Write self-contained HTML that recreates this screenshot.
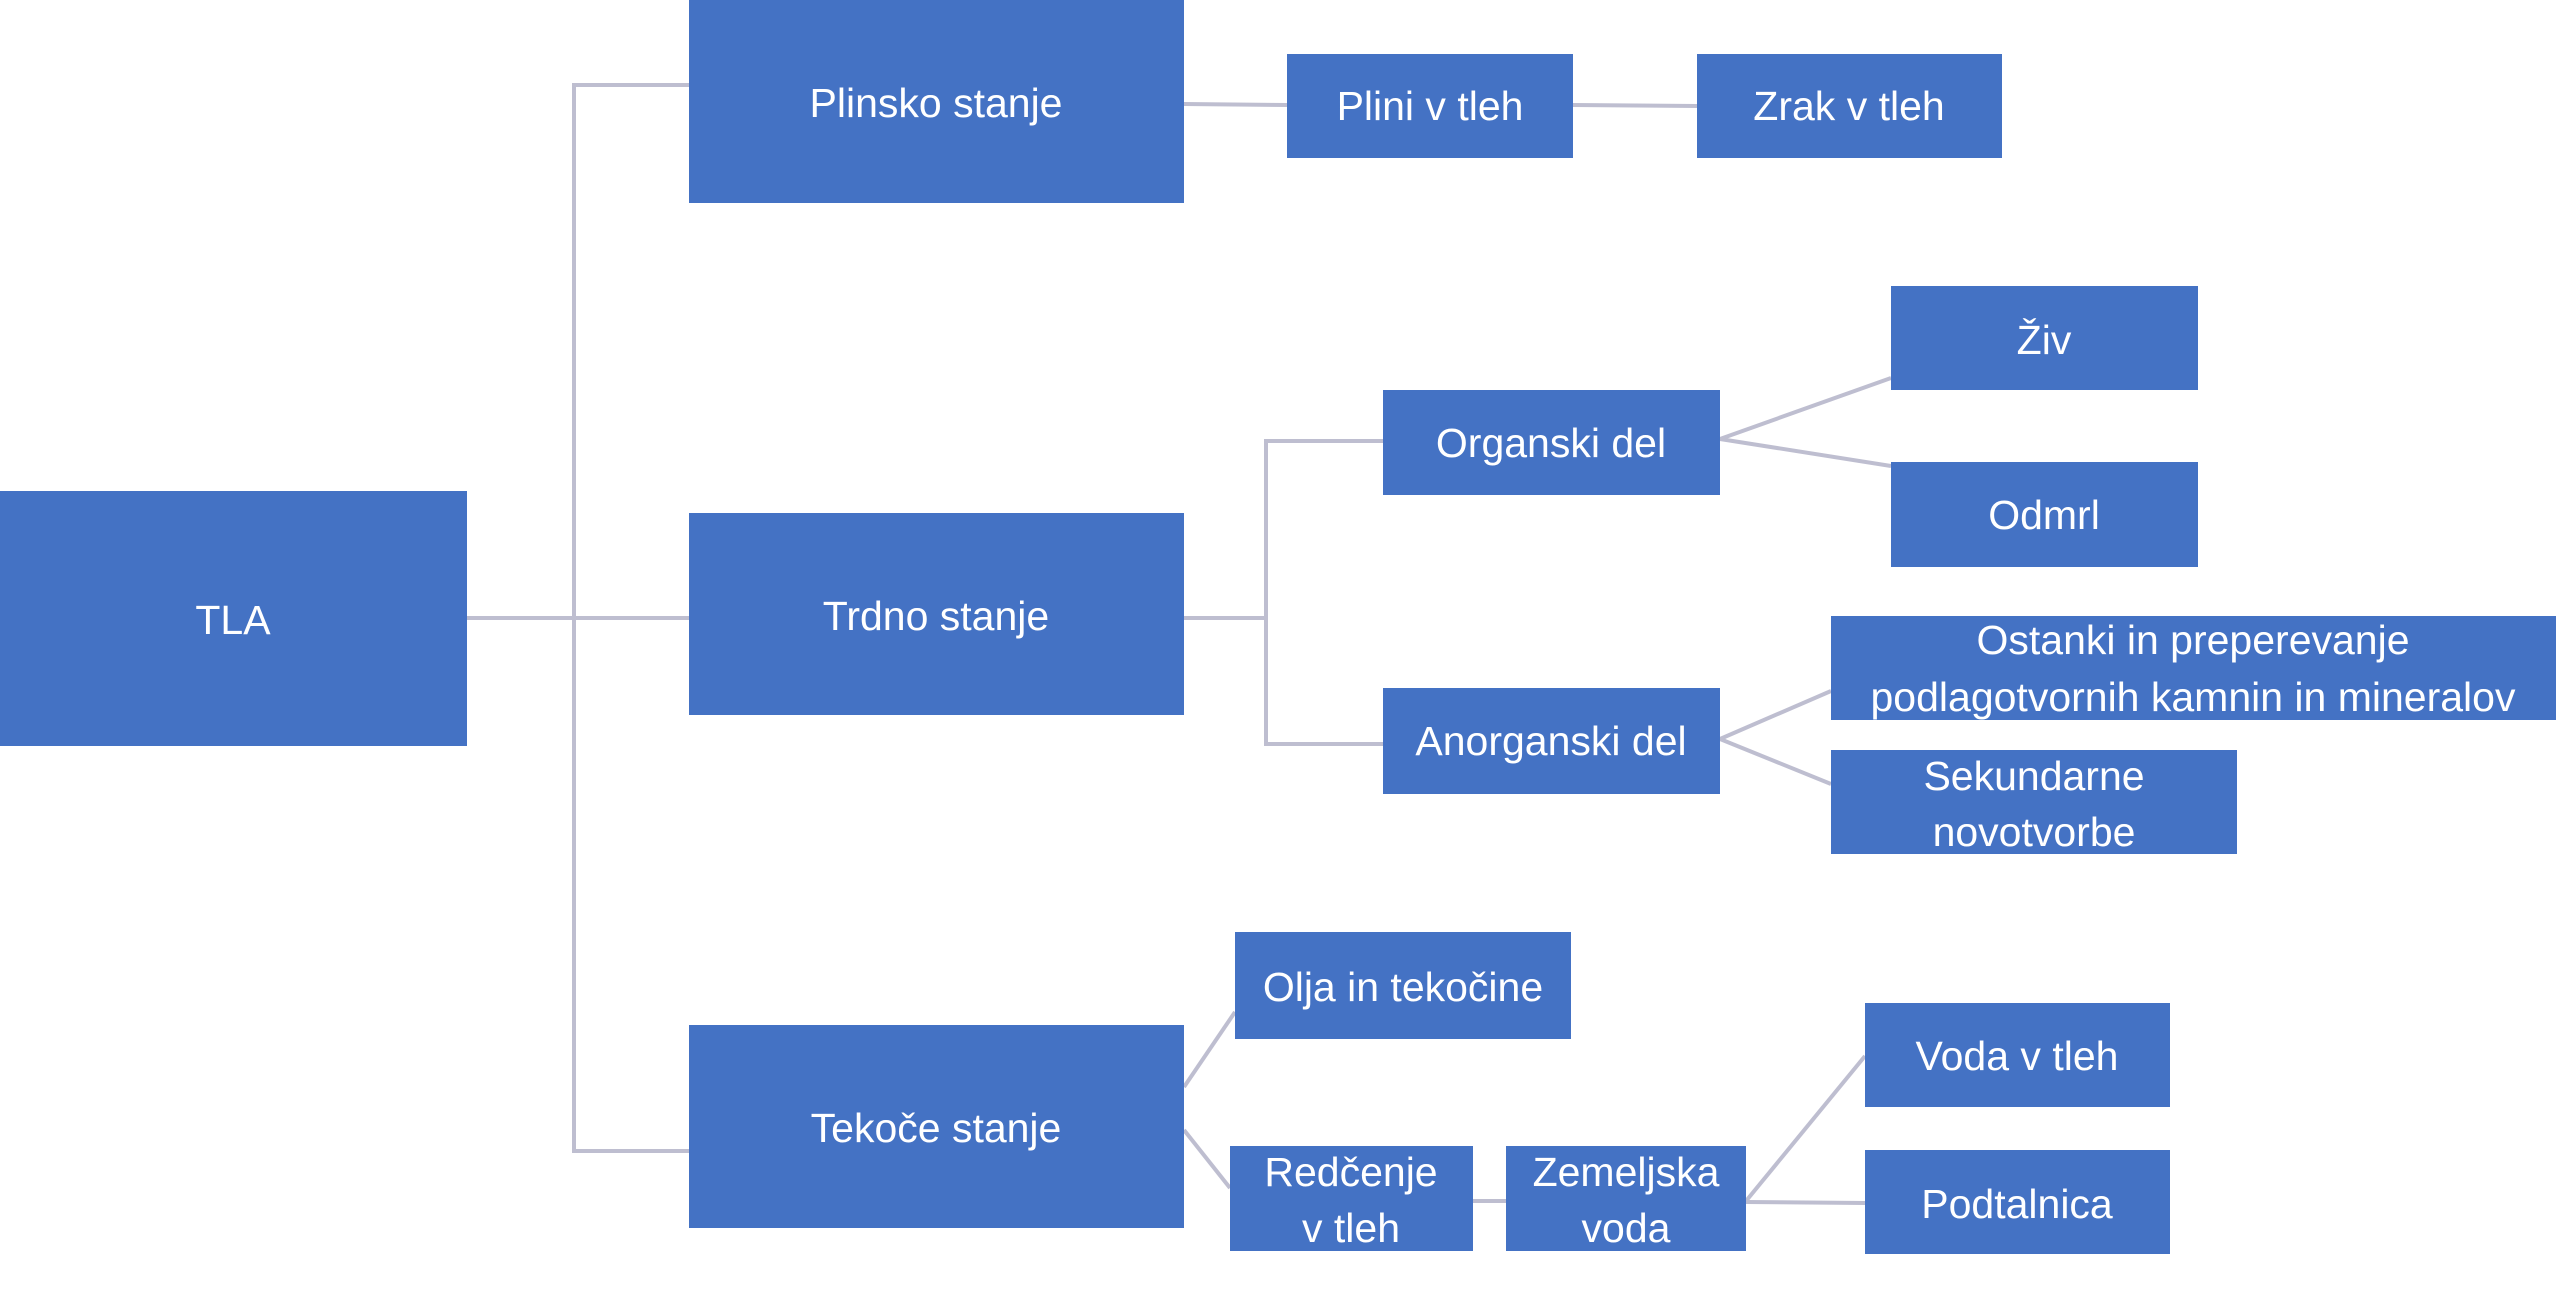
<!DOCTYPE html>
<html><head><meta charset="utf-8"><style>
html,body{margin:0;padding:0;background:#fff;}
svg{display:block;}
text{font-family:"Liberation Sans",sans-serif;font-size:41px;fill:#fff;text-anchor:middle;dominant-baseline:central;}
</style></head><body>
<svg width="2560" height="1290" viewBox="0 0 2560 1290" xmlns="http://www.w3.org/2000/svg">
<g stroke="#BEBED0" stroke-width="4" fill="none">
<polyline points="689,85 574,85 574,1151 689,1151"/>
<line x1="467" y1="618" x2="689" y2="618"/>
<line x1="1184" y1="104" x2="1287" y2="105"/>
<line x1="1573" y1="105" x2="1697" y2="106"/>
<polyline points="1184,618 1266,618"/>
<polyline points="1383,441 1266,441 1266,744 1383,744"/>
<line x1="1720" y1="439" x2="1891" y2="378"/>
<line x1="1720" y1="439" x2="1891" y2="466"/>
<line x1="1720" y1="739" x2="1831" y2="691"/>
<line x1="1720" y1="739" x2="1831" y2="784"/>
<line x1="1184" y1="1087" x2="1235" y2="1012"/>
<line x1="1184" y1="1130" x2="1230" y2="1188"/>
<line x1="1473" y1="1201" x2="1506" y2="1201"/>
<line x1="1746" y1="1201" x2="1865" y2="1056"/>
<line x1="1746" y1="1202" x2="1865" y2="1203"/>
</g>
<g fill="#4472C4">
<rect x="0" y="491" width="467" height="255"/>
<rect x="689" y="0" width="495" height="203"/>
<rect x="689" y="513" width="495" height="202"/>
<rect x="689" y="1025" width="495" height="203"/>
<rect x="1287" y="54" width="286" height="104"/>
<rect x="1697" y="54" width="305" height="104"/>
<rect x="1383" y="390" width="337" height="105"/>
<rect x="1891" y="286" width="307" height="104"/>
<rect x="1891" y="462" width="307" height="105"/>
<rect x="1831" y="616" width="725" height="104"/>
<rect x="1383" y="688" width="337" height="106"/>
<rect x="1831" y="750" width="406" height="104"/>
<rect x="1235" y="932" width="336" height="107"/>
<rect x="1230" y="1146" width="243" height="105"/>
<rect x="1506" y="1146" width="240" height="105"/>
<rect x="1865" y="1003" width="305" height="104"/>
<rect x="1865" y="1150" width="305" height="104"/>
</g>
<text x="233" y="620">TLA</text>
<text x="936" y="103">Plinsko stanje</text>
<text x="936" y="616">Trdno stanje</text>
<text x="936" y="1128">Tekoče stanje</text>
<text x="1430" y="106">Plini v tleh</text>
<text x="1849" y="106">Zrak v tleh</text>
<text x="1551" y="443">Organski del</text>
<text x="2044" y="340">Živ</text>
<text x="2044" y="515">Odmrl</text>
<text x="2193" y="640">Ostanki in preperevanje</text>
<text x="2193" y="697">podlagotvornih kamnin in mineralov</text>
<text x="1551" y="741">Anorganski del</text>
<text x="2034" y="776">Sekundarne</text>
<text x="2034" y="832">novotvorbe</text>
<text x="1403" y="987">Olja in tekočine</text>
<text x="1351" y="1172">Redčenje</text>
<text x="1351" y="1228">v tleh</text>
<text x="1626" y="1172">Zemeljska</text>
<text x="1626" y="1228">voda</text>
<text x="2017" y="1056">Voda v tleh</text>
<text x="2017" y="1204">Podtalnica</text>
</svg>
</body></html>
